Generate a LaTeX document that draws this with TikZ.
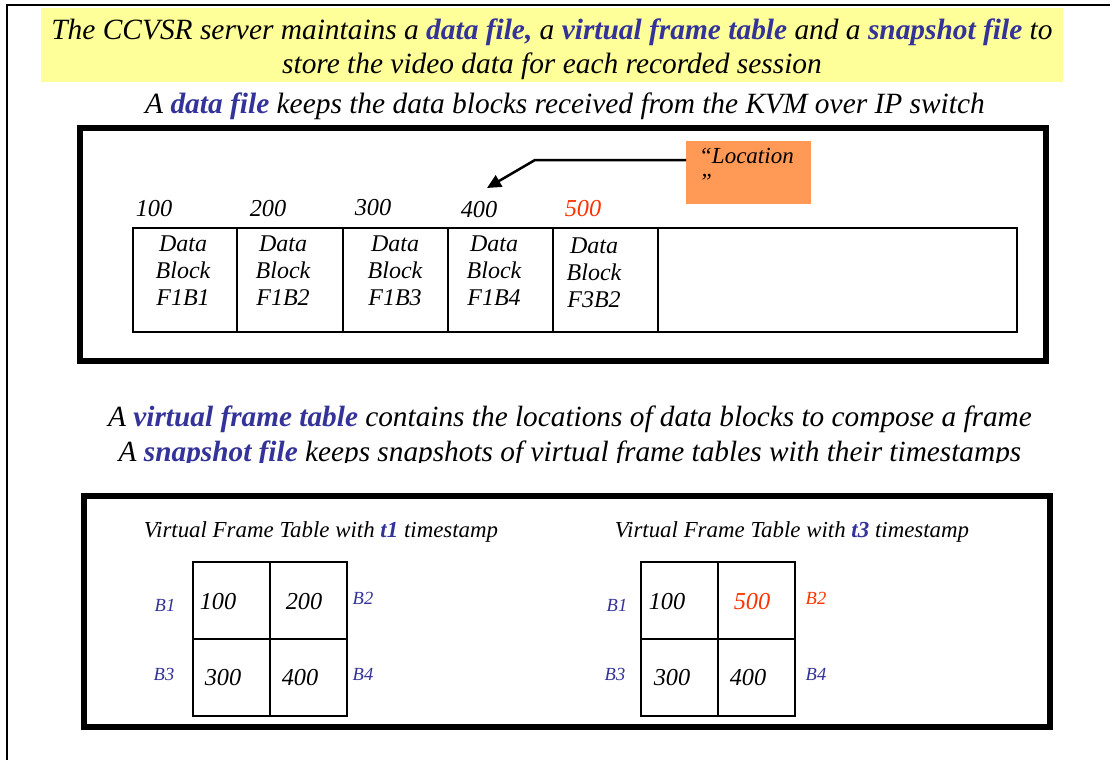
\documentclass[tikz,border=0pt]{standalone}
\usepackage{fontspec}
\setmainfont{Liberation Serif}[UprightFont=*, ItalicFont=* Italic, BoldFont=* Bold, BoldItalicFont=* Bold Italic]
\usetikzlibrary{arrows.meta}
\definecolor{hl}{HTML}{333399}
\definecolor{rd}{HTML}{FF3300}
\definecolor{yel}{HTML}{FFFF99}
\definecolor{org}{HTML}{FF9955}
\newcommand{\hlw}[1]{\textcolor{hl}{\bfseries #1}}
\tikzset{
  txt/.style={inner sep=0pt, font=\itshape},
  bigtxt/.style={txt, font=\fontsize{29.4}{32}\selectfont\itshape},
  midtxt/.style={txt, font=\fontsize{29.3}{32}\selectfont\itshape},
  numtxt/.style={txt, font=\fontsize{24.3}{27}\selectfont\itshape},
  celltxt/.style={txt, align=center, font=\fontsize{24}{27}\selectfont\itshape},
  lbl/.style={txt, text=hl, font=\fontsize{18.5}{20}\selectfont\itshape},
  head/.style={txt, font=\fontsize{22.9}{25}\selectfont\itshape},
  blk/.style={draw, line width=1.5pt, inner sep=0pt, minimum height=104pt},
  gcell/.style={draw, line width=2pt, inner sep=0pt, minimum width=77pt, minimum height=77pt},
  thickbox/.style={draw, line width=6pt},
}
\begin{document}
\begin{tikzpicture}[x=1pt,y=-1pt]
\useasboundingbox (0,0) rectangle (1110,760);
\fill[white] (0,0) rectangle (1110,760);
\draw[line width=2pt] (6.5,760) -- (6.5,5) -- (1110,5);
% title
\fill[yel] (41,8) rectangle (1063,82);
\node[bigtxt] (t1) at (552,32) {The CCVSR server maintains a \hlw{data file,} a \hlw{virtual frame table} and a \hlw{snapshot file} to};
\node[bigtxt] (t2) at (552,66) {store the video data for each recorded session};
\node[bigtxt] (t3) at (565,106) {A \hlw{data file} keeps the data blocks received from the KVM over IP switch};
% upper box
\draw[thickbox] (80,128) rectangle (1045.5,361);
\node[blk, minimum width=104pt] (c1) at (185,280) {};
\node[blk, minimum width=106pt] (c2) at (290,280) {};
\node[blk, minimum width=105pt] (c3) at (395.5,280) {};
\node[blk, minimum width=105pt] (c4) at (500.5,280) {};
\node[blk, minimum width=105pt] (c5) at (605.5,280) {};
\node[blk, minimum width=359pt] (c6) at (837.5,280) {};
\node[celltxt] (d1) at (183,271) {Data\\Block\\F1B1};
\node[celltxt] (d2) at (283,271) {Data\\Block\\F1B2};
\node[celltxt] (d3) at (395,271) {Data\\Block\\F1B3};
\node[celltxt] (d4) at (494,271) {Data\\Block\\F1B4};
\node[celltxt] (d5) at (594,273) {Data\\Block\\F3B2};
\node[numtxt] (n1) at (154,209) {100};
\node[numtxt] (n2) at (268,209) {200};
\node[numtxt] (n3) at (373,208) {300};
\node[numtxt] (n4) at (479,210) {400};
\node[numtxt, text=rd] (n5) at (583,209) {500};
% location callout
\node[fill=org, minimum width=125pt, minimum height=63pt, inner sep=0pt, anchor=north west] (loc) at (686,141) {};
\node[txt, anchor=north west, align=left, font=\fontsize{23}{26}\selectfont\itshape] (loct) at (699,148) {“Location\\”};
\coordinate (a1) at (535,160);
\coordinate (a2) at (487,188);
\draw[line width=2.5pt, -{Triangle[length=14pt,width=13pt]}] (loc.west |- a1) -- (a1) -- (a2);
% middle text
\node[midtxt] (m1) at (570,419) {A \hlw{virtual frame table} contains the locations of data blocks to compose a frame};
\begin{scope}
\clip (0,430) rectangle (1110,462);
\node[midtxt] (m2) at (570,454) {A \hlw{snapshot file} keeps snapshots of virtual frame tables with their timestamps};
\end{scope}
% lower box
\draw[thickbox] (84,496) rectangle (1050,727);
\node[head] (h1) at (321,532) {Virtual Frame Table with \hlw{t1} timestamp};
\node[head] (h2) at (792,532) {Virtual Frame Table with \hlw{t3} timestamp};
% left table
\node[gcell] (l1) at (231.5,600) {};
\node[gcell] (l2) at (308.5,600) {};
\node[gcell] (l3) at (231.5,677) {};
\node[gcell] (l4) at (308.5,677) {};
\node[numtxt] at (218,602) {100};
\node[numtxt] at (304,602) {200};
\node[numtxt] at (223,678) {300};
\node[numtxt] at (300,678) {400};
\node[lbl] (lb1) at (165,605) {B1};
\node[lbl] (lb2) at (363,598) {B2};
\node[lbl] (lb3) at (164,674) {B3};
\node[lbl] (lb4) at (363,674) {B4};
% right table
\node[gcell] (r1) at (679.5,600) {};
\node[gcell] (r2) at (756.5,600) {};
\node[gcell] (r3) at (679.5,677) {};
\node[gcell] (r4) at (756.5,677) {};
\node[numtxt] at (667,602) {100};
\node[numtxt, text=rd] at (752,602) {500};
\node[numtxt] at (672,678) {300};
\node[numtxt] at (748,678) {400};
\node[lbl] (rb1) at (617,605) {B1};
\node[lbl, text=rd] (rb2) at (816,598) {B2};
\node[lbl] (rb3) at (615,674) {B3};
\node[lbl] (rb4) at (816,674) {B4};
\end{tikzpicture}
\end{document}
